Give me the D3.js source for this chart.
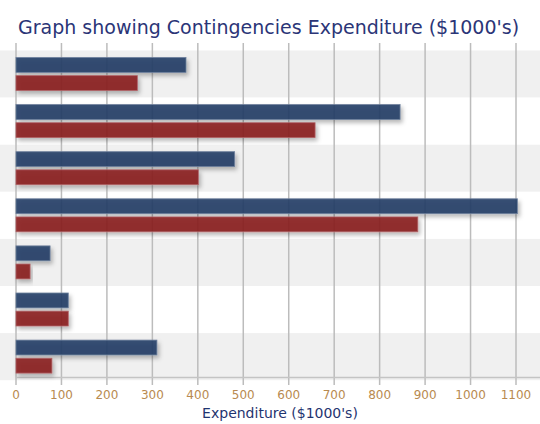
<!DOCTYPE html>
<html>
<head>
<meta charset="utf-8">
<script src="https://cdnjs.cloudflare.com/ajax/libs/d3/7.8.5/d3.min.js"></script>
<style>
  html, body { margin: 0; padding: 0; background: #fff; }
  svg { display: block; }
</style>
</head>
<body>
<div id="chart"></div>
<script>
// data
var categories = ['Item 1', 'Item 2', 'Item 3', 'Item 4', 'Item 5', 'Item 6', 'Item 7'];
var series = ['Series 1', 'Series 2'];
var blueValues = [374, 845, 481, 1103, 75, 115, 310];
var redValues = [267, 658, 401, 884, 31, 115, 79];
var tickValues = [0, 100, 200, 300, 400, 500, 600, 700, 800, 900, 1000, 1100];
var titleText = "Graph showing Contingencies Expenditure ($1000's)";
var axisTitle = "Expenditure ($1000's)";

var width = 540, height = 424;
var colors = { 'Series 1': '#233f66', 'Series 2': '#8a1c20' };
var strokes = { 'Series 1': '#6d7f9c', 'Series 2': '#b06466' };

var svg = d3.select('#chart').append('svg')
    .attr('width', width)
    .attr('height', height);

var defs = svg.append('defs');
var shadow = defs.append('filter')
    .attr('id', 'shadow')
    .attr('x', '-10%').attr('y', '-40%')
    .attr('width', '130%').attr('height', '220%');
shadow.append('feDropShadow')
    .attr('dx', 2).attr('dy', 3)
    .attr('stdDeviation', 2.2)
    .attr('flood-color', '#000')
    .attr('flood-opacity', 0.3);

var x = d3.scaleLinear().domain([0, 1100]).range([16, 516]);
var y = d3.scaleBand().domain(categories).range([50.5, 380.2]).padding(0);
var inner = d3.scaleBand().domain(series).range([7, 40]).paddingInner(0.18);

// alternating background bands
svg.append('g').selectAll('rect')
    .data(categories)
    .enter()
        .append('rect')
        .attr('x', 0)
        .attr('y', function(d) { return y(d); })
        .attr('width', width)
        .attr('height', y.bandwidth())
        .attr('fill', function(d, i) { return i % 2 === 0 ? '#f0f0f0' : '#ffffff'; });

// vertical grid lines
svg.append('g').selectAll('line')
    .data(tickValues)
    .enter()
        .append('line')
        .attr('x1', function(d) { return x(d); })
        .attr('x2', function(d) { return x(d); })
        .attr('y1', 43)
        .attr('y2', 385)
        .attr('stroke', '#bcbcbc')
        .attr('stroke-width', 1.5);

// axis base line
svg.append('line')
    .attr('x1', x(0)).attr('x2', width)
    .attr('y1', 377.5).attr('y2', 377.5)
    .attr('stroke', '#c4c4c4')
    .attr('stroke-width', 1.5);

var rows = categories.map(function(c, i) {
    return { cat: c, values: [
        { key: 'Series 1', value: blueValues[i] },
        { key: 'Series 2', value: redValues[i] }
    ] };
});

var groups = svg.append('g').selectAll('g')
    .data(rows)
    .enter()
        .append('g')
        .attr('transform', function(d) { return 'translate(0,' + y(d.cat) + ')'; });

groups.selectAll('rect')
    .data(function(d) { return d.values; })
    .enter()
        .append('rect')
        .attr('x', x(0))
        .attr('y', function(d) { return inner(d.key); })
        .attr('width', function(d) { return x(d.value) - x(0); })
        .attr('height', inner.bandwidth())
        .attr('fill', function(d) { return colors[d.key]; })
        .attr('fill-opacity', 0.9)
        .attr('stroke', function(d) { return strokes[d.key]; })
        .attr('stroke-width', 0.8)
        .attr('filter', 'url(#shadow)');

// tick labels
svg.append('g').selectAll('text')
    .data(tickValues)
    .enter()
        .append('text')
        .attr('x', function(d) { return x(d); })
        .attr('y', 399)
        .attr('text-anchor', 'middle')
        .attr('font-family', 'DejaVu Sans, sans-serif')
        .attr('font-size', 12)
        .attr('fill', '#b88a50')
        .text(function(d) { return d; });

svg.append('text')
    .attr('x', 280)
    .attr('y', 418)
    .attr('text-anchor', 'middle')
    .attr('font-family', 'DejaVu Sans, sans-serif')
    .attr('font-size', 14)
    .attr('fill', '#1f3470')
    .text(axisTitle);

svg.append('text')
    .attr('x', 18)
    .attr('y', 34)
    .attr('font-family', 'DejaVu Sans, sans-serif')
    .attr('font-size', 19)
    .attr('fill', '#2b3577')
    .text(titleText);
</script>
</body>
</html>
